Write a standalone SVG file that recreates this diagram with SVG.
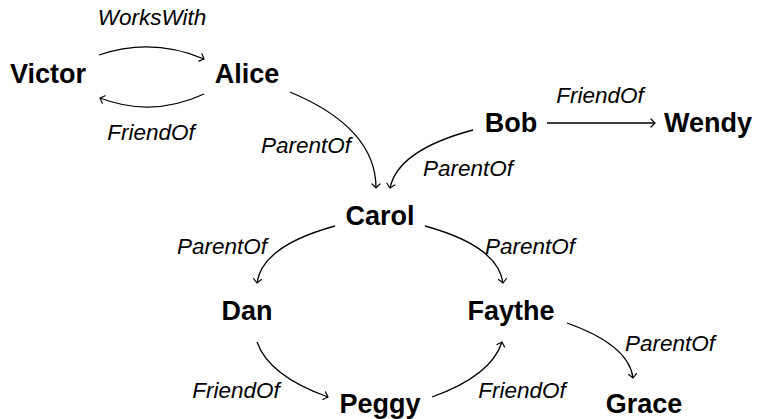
<svg xmlns="http://www.w3.org/2000/svg" width="758" height="419" viewBox="0 0 758 419">
<style>
.node{font-family:"Liberation Sans",Arial,sans-serif;font-weight:bold;font-size:27px;fill:#000;text-anchor:middle}
.lbl{font-family:"Liberation Sans",Arial,sans-serif;font-style:italic;font-size:22.5px;fill:#000;text-anchor:middle}
.edge{fill:none;stroke:#000;stroke-width:1.3;marker-end:url(#arr)}
</style>
<defs>
<marker id="arr" markerUnits="userSpaceOnUse" markerWidth="12" markerHeight="12" viewBox="-6 -6 12 12" refX="0" refY="0" orient="auto">
<path d="M -4 -4 Q -1 -1 0 0 Q -1 1 -4 4" fill="none" stroke="#000" stroke-width="1.2" stroke-linecap="round"/>
</marker>
</defs>
<g id="connectors">
<path class="edge" d="M 99 55 Q 152 37 204 59"/>
<path class="edge" d="M 204 94 Q 152 118 100 98"/>
<path class="edge" d="M 290 92 Q 376 128 376 188"/>
<path class="edge" d="M 473 130 Q 398 150 390 188"/>
<path class="edge" d="M 547 123 L 655 123"/>
<path class="edge" d="M 335 226 Q 262 246 257 283"/>
<path class="edge" d="M 425 226 Q 498 246 503 283"/>
<path class="edge" d="M 257 342 Q 269 376 328 397"/>
<path class="edge" d="M 432 397 Q 491 376 502 342"/>
<path class="edge" d="M 567 323 Q 629 345 633 378"/>
<text class="lbl" x="152" y="25">WorksWith</text>
<text class="lbl" x="151" y="140">FriendOf</text>
<text class="lbl" x="306" y="153">ParentOf</text>
<text class="lbl" x="468" y="176">ParentOf</text>
<text class="lbl" x="600" y="103">FriendOf</text>
<text class="lbl" x="222" y="254">ParentOf</text>
<text class="lbl" x="530" y="254">ParentOf</text>
<text class="lbl" x="236" y="398">FriendOf</text>
<text class="lbl" x="522" y="398">FriendOf</text>
<text class="lbl" x="670" y="351">ParentOf</text>
</g>
<g id="Victor"><text class="node" x="48" y="83">Victor</text></g>
<g id="Alice"><text class="node" x="247" y="83">Alice</text></g>
<g id="Bob"><text class="node" x="511" y="132">Bob</text></g>
<g id="Wendy"><text class="node" x="708" y="132">Wendy</text></g>
<g id="Carol"><text class="node" x="380" y="225">Carol</text></g>
<g id="Dan"><text class="node" x="247" y="320">Dan</text></g>
<g id="Faythe"><text class="node" x="511" y="320">Faythe</text></g>
<g id="Peggy"><text class="node" x="380" y="413">Peggy</text></g>
<g id="Grace"><text class="node" x="644" y="413">Grace</text></g>
</svg>
